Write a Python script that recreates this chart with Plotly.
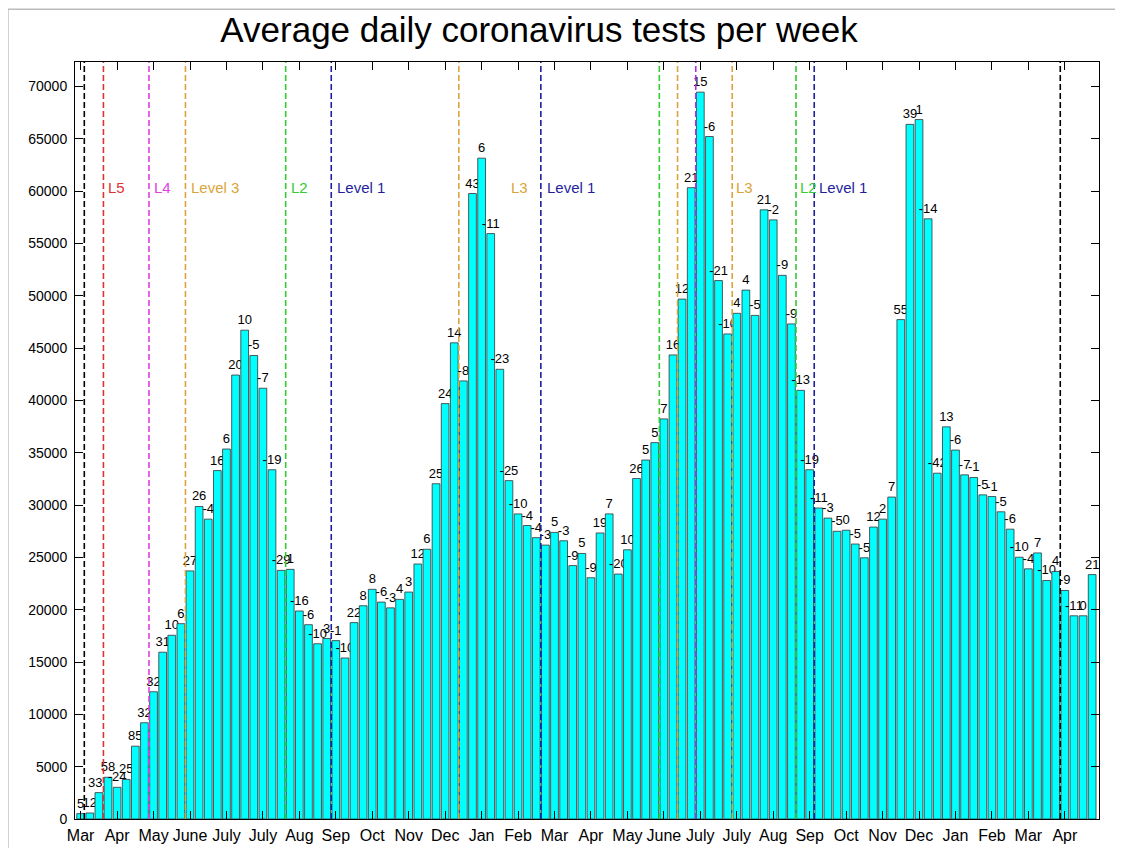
import plotly.graph_objects as go

# weekly averages (tests per day)
tests = [515, 575, 2520, 3990, 3030, 3780, 6960, 9200, 12160, 15940,
         17560, 18670, 23710, 29870, 28660, 33300, 35360, 42430, 46720, 44300,
         41170, 33380, 23760, 23860, 19880, 18570, 16750, 17250, 17050, 15390,
         18770, 20380, 21950, 20730, 20180, 20990, 21690, 24370, 25780, 32040,
         39700, 45510, 41870, 59780, 63160, 55950, 42980, 32340, 29160, 28050,
         26890, 26180, 27390, 26590, 24220, 25380, 23060, 27340, 29160, 23410,
         25730, 32540, 34310, 35970, 38240, 44350, 49690, 60340, 69470, 65230,
         51460, 46360, 48330, 50550, 48130, 58220, 57260, 51960, 47320, 40970,
         33380, 29720, 28760, 27500, 27600, 26280, 24970, 27900, 28660, 30770,
         47730, 66390, 66850, 57360, 33050, 37480, 35260, 32890, 32640, 30980,
         30820, 29360, 27700, 25020, 23910, 25430, 22800, 23660, 21840, 19420,
         19420, 23360]

# week-on-week change in percent, as printed above the bars
pct = ["5", "12", "337", "58", "-24", "25", "85", "32", "32", "31",
       "10", "6", "27", "26", "-4", "16", "6", "20", "10", "-5",
       "-7", "-19", "-29", "1", "-16", "-6", "-10", "3", "-1", "-10",
       "22", "8", "8", "-6", "-3", "4", "3", "12", "6", "25",
       "24", "14", "-8", "43", "6", "-11", "-23", "-25", "-10", "-4",
       "-4", "-3", "5", "-3", "-9", "5", "-9", "19", "7", "-20",
       "10", "26", "5", "5", "7", "16", "12", "21", "15", "-6",
       "-21", "-10", "4", "4", "-5", "21", "-2", "-9", "-9", "-13",
       "-19", "-11", "-3", "-5", "0", "-5", "-5", "12", "2", "7",
       "55", "39", "1", "-14", "-42", "13", "-6", "-7", "-1", "-5",
       "-1", "-5", "-6", "-10", "-4", "7", "-10", "4", "-9", "-11",
       "0", "21"]

weeks = list(range(len(tests)))

# month ticks every 4 weeks
tick_weeks = list(range(0, 112, 4))
tick_text = ["Mar", "Apr", "May", "June", "July", "July", "Aug", "Sep", "Oct", "Nov",
             "Dec", "Jan", "Feb", "Mar", "Apr", "May", "June", "July", "July", "Aug",
             "Sep", "Oct", "Nov", "Dec", "Jan", "Feb", "Mar", "Apr"]

# alert level changes (position in weeks, colour), and the level names
level_x = [0.4, 2.5, 7.5, 11.5, 22.5, 27.5, 41.5, 50.5, 63.5, 65.5, 67.5, 71.5, 78.5, 80.5, 107.5]
level_col = ["black", "#dd3333", "#e040e0", "#d9a53a", "#33cc33", "#1f1fa0", "#d9a53a", "#1f1fa0",
             "#33cc33", "#d9a53a", "#b030e0", "#d9a53a", "#33cc33", "#1f1fa0", "black"]
label_text = ["L5", "L4", "Level 3", "L2", "Level 1", "L3", "Level 1", "L3", "L2", "Level 1"]
label_x = [2.75, 7.8, 11.85, 22.9, 27.95, 47.0, 50.95, 71.7, 78.7, 80.75]
label_col = ["#dd3333", "#e040e0", "#d9a53a", "#33cc33", "#1f1fa0", "#d9a53a", "#1f1fa0",
             "#d9a53a", "#33cc33", "#1f1fa0"]

FONT = "Liberation Sans, Arial, Helvetica, sans-serif"

fig = go.Figure()
fig.add_trace(go.Bar(
    x=weeks, y=tests, text=pct, textposition="outside", cliponaxis=False,
    constraintext="none", textfont=dict(size=13, color="black", family=FONT),
    marker=dict(color="#00ffff", line=dict(color="#333333", width=0.8)),
    hoverinfo="x+y",
))

for x, c in zip(level_x, level_col):
    fig.add_shape(type="line", x0=x, x1=x, y0=0, y1=1, xref="x", yref="y domain",
                  line=dict(color=c, width=1.6, dash="6px,3px"))

for t, x, c in zip(label_text, label_x, label_col):
    fig.add_annotation(x=x, y=60400, text=t, showarrow=False, xanchor="left",
                       yanchor="middle", font=dict(size=15, color=c, family=FONT))

# grey frame along the picture's edge
fig.add_shape(type="rect", xref="paper", yref="paper", x0=-0.0655, x1=1.0171, y0=-0.06, y1=1.0698,
              line=dict(color="#bbbbbb", width=1.5), fillcolor="rgba(0,0,0,0)")

fig.update_layout(
    width=1115, height=848,
    margin=dict(l=67, r=24, t=54, b=28),
    paper_bgcolor="white", plot_bgcolor="white",
    bargap=0.15, showlegend=False,
    font=dict(family=FONT, color="black"),
    title=dict(text="Average daily coronavirus tests per week", x=0.4763, xanchor="center",
               y=0.974, yanchor="middle", font=dict(size=35, family=FONT, color="black")),
)
fig.update_xaxes(range=[-0.62, 111.75], tickvals=tick_weeks, ticktext=tick_text,
                 ticks="inside", ticklen=8, tickcolor="black", showline=True, linecolor="black",
                 linewidth=1, mirror="ticks", showgrid=False, zeroline=False,
                 tickfont=dict(size=16), ticklabelstandoff=2)
fig.update_yaxes(range=[0, 72350], tickvals=list(range(0, 70001, 5000)), tickformat="d",
                 ticks="inside", ticklen=8, tickcolor="black", showline=True, linecolor="black",
                 linewidth=1, mirror="ticks", showgrid=False, zeroline=False,
                 tickfont=dict(size=14), ticklabelstandoff=4)

fig.write_html("out.html")
